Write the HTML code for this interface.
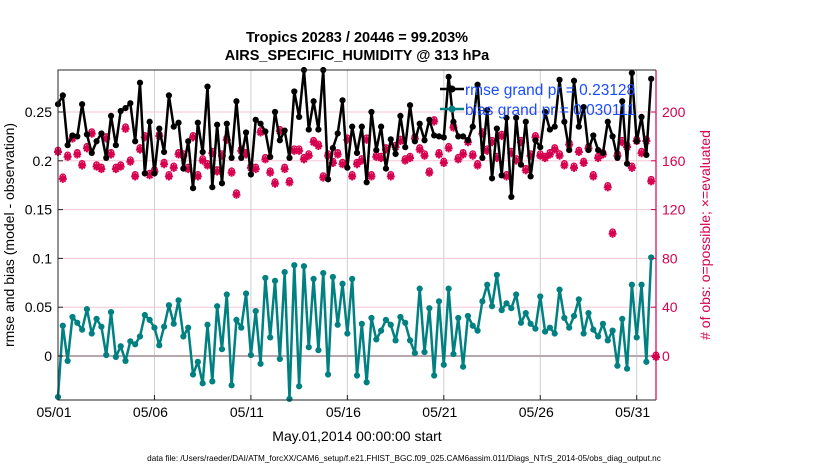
<!DOCTYPE html>
<html><head><meta charset="utf-8"><style>
html,body{margin:0;padding:0;background:#fff;}
svg{display:block;font-family:"Liberation Sans",sans-serif;}
</style></head><body>
<svg id="chart" width="830" height="470">
<text x="357" y="42" text-anchor="middle" font-size="14.5" font-weight="bold">Tropics 20283 / 20446 = 99.203%</text>
<text x="357" y="60" text-anchor="middle" font-size="14.5" font-weight="bold">AIRS_SPECIFIC_HUMIDITY @ 313 hPa</text>
<g id="grid"></g>
<g id="marks"></g>
<g id="axes"></g>
<text transform="translate(14,235) rotate(-90)" text-anchor="middle" font-size="14">rmse and bias (model - observation)</text>
<text transform="translate(710,235) rotate(-90)" text-anchor="middle" font-size="14" fill="#d6004f"># of obs: o=possible; ×=evaluated</text>
<text x="357" y="441" text-anchor="middle" font-size="14">May.01,2014 00:00:00 start</text>
<text x="404" y="461" text-anchor="middle" font-size="8.2">data file: /Users/raeder/DAI/ATM_forcXX/CAM6_setup/f.e21.FHIST_BGC.f09_025.CAM6assim.011/Diags_NTrS_2014-05/obs_diag_output.nc</text>
<g>
<line x1="440" y1="89" x2="464" y2="89" stroke="#000" stroke-width="2.5"/>
<circle cx="452" cy="89" r="3.5" fill="#000"/>
<text x="465" y="95" font-size="15.5" fill="#1a4cff">rmse grand pr = 0.23128</text>
<line x1="440" y1="109" x2="464" y2="109" stroke="#008080" stroke-width="2.5"/>
<circle cx="452" cy="109" r="3.5" fill="#008080"/>
<text x="465" y="115" font-size="15.5" fill="#1a4cff">bias grand pr = 0.030111</text>
</g>
</svg>
<script>
const xTickLabels = ["05/01","05/06","05/11","05/16","05/21","05/26","05/31"];
const xTickDays = [0,5,10,15,20,25,30];
const leftTicks = [0,0.05,0.1,0.15,0.2,0.25];
const leftTickLabels = ["0","0.05","0.1","0.15","0.2","0.25"];
const rightTicks = [0,40,80,120,160,200];
const rmse = [0.258,0.267,0.216,0.226,0.225,0.258,0.227,0.208,0.220,0.228,0.203,0.246,0.216,0.251,0.254,0.259,0.220,0.280,0.187,0.240,0.187,0.233,0.209,0.267,0.235,0.239,0.192,0.220,0.172,0.239,0.209,0.276,0.173,0.237,0.177,0.238,0.203,0.261,0.203,0.229,0.186,0.242,0.238,
0.230,0.204,0.250,0.221,0.231,0.203,0.271,0.245,0.293,0.232,0.261,0.232,0.293,0.181,0.213,0.228,0.262,0.193,0.235,0.208,0.235,0.178,0.250,0.211,0.235,0.192,0.222,0.207,0.246,0.214,0.257,0.220,0.238,0.221,0.242,0.226,0.225,0.224,0.286,0.240,0.225,
0.225,0.221,0.235,0.278,0.203,0.252,0.182,0.233,0.185,0.244,0.163,0.244,0.196,0.240,0.184,0.221,0.214,0.250,0.232,0.235,0.283,0.240,0.211,0.282,0.235,0.255,0.211,0.226,0.211,0.208,0.240,0.225,0.203,0.261,0.197,0.290,0.220,0.245,0.206,0.284];
const bias = [-0.042,0.031,-0.005,0.040,0.034,0.027,0.048,0.023,0.038,0.030,0.001,0.045,-0.001,0.010,-0.005,0.015,0.012,0.020,0.042,0.037,0.029,0.011,0.030,0.052,0.033,0.057,0.020,0.029,-0.019,-0.006,-0.028,0.032,-0.026,0.051,0.007,0.063,-0.030,0.037,0.029,0.064,0.001,0.046,-0.008,
0.080,0.019,0.077,-0.003,0.086,-0.044,0.093,-0.031,0.092,0.009,0.079,0.006,0.085,-0.019,0.081,0.032,0.074,0.023,0.079,-0.020,0.033,-0.027,0.039,0.017,0.026,0.037,0.032,0.016,0.040,0.034,0.016,0.003,0.069,0.004,0.049,-0.020,0.056,-0.009,0.069,0.002,0.039,
-0.011,0.041,0.031,0.026,0.056,0.073,0.051,0.083,0.047,0.054,0.049,0.063,0.034,0.044,0.033,0.028,0.061,0.025,0.029,0.023,0.068,0.039,0.029,0.041,0.058,0.023,0.044,0.027,0.020,0.033,0.016,0.026,-0.010,0.038,-0.013,0.073,0.019,0.073,-0.006,0.101];
const possible = [168,146,164,179,166,157,171,183,156,154,179,166,154,156,187,160,148,170,180,149,152,181,158,148,155,166,165,154,180,148,161,157,167,152,165,178,151,133,169,166,155,154,184,
162,151,142,185,154,143,169,169,162,165,176,173,147,165,159,166,158,178,148,158,161,178,148,164,163,170,148,172,177,161,163,179,170,165,151,193,166,159,171,188,162,
166,176,165,157,183,169,176,163,181,148,167,161,176,153,165,180,165,163,166,170,165,157,174,155,168,159,171,148,163,166,139,101,165,176,172,155,177,167,177,144,0];
const evaluated = possible.slice();

const L=58,R=656,T=70,B=400;
const xs = i => L + i*(R-L)/124;
const xDay = d => L + d*4*(R-L)/124;
const yl = v => 356 - v*976;
const yr = c => 356 - c*1.22;
const NS="http://www.w3.org/2000/svg";
function mk(parent,tag,attrs){const e=document.createElementNS(NS,tag);for(const k in attrs)e.setAttribute(k,attrs[k]);parent.appendChild(e);return e;}
const grid=document.getElementById('grid'), marks=document.getElementById('marks'), axes=document.getElementById('axes');

rightTicks.forEach(c=>{const g=mk(grid,'line',{x1:L,x2:R,y1:yr(c),y2:yr(c),stroke:'#f3c6d6','stroke-width':1});

});
xTickDays.forEach(d=>{const g=mk(grid,'line',{x1:xDay(d),x2:xDay(d),y1:T,y2:B,stroke:'#cfcfcf','stroke-width':1});

});
const z=mk(grid,'line',{x1:L,x2:R,y1:yl(0),y2:yl(0),stroke:'#b8a8ad','stroke-width':2});



possible.forEach((c,i)=>{const e=mk(marks,'circle',{cx:xs(i),cy:yr(c)-1,r:2.8,fill:'none',stroke:'#d6004f','stroke-width':1.3});

});
evaluated.forEach((c,i)=>{const x=xs(i),y=yr(c)+1;const e=mk(marks,'path',{d:`M${x-4},${y}L${x+4},${y}M${x},${y-4}L${x},${y+4}M${x-2.8},${y-2.8}L${x+2.8},${y+2.8}M${x-2.8},${y+2.8}L${x+2.8},${y-2.8}`,stroke:'#d6004f','stroke-width':2});

});

function series(vals,color,name){
  const p=mk(marks,'polyline',{points:vals.map((v,i)=>xs(i)+','+yl(v)).join(' '),fill:'none',stroke:color,'stroke-width':2.5,'stroke-linejoin':'round'});
  
  
  vals.forEach((v,i)=>{const c=mk(marks,'circle',{cx:xs(i),cy:yl(v),r:3.1,fill:color});
  
  });
}
series(bias,'#008080','bias');
series(rmse,'#000000','rmse');

const fr=mk(axes,'path',{d:`M${R},${T}L${L},${T}L${L},${B}L${R},${B}`,fill:'none',stroke:'#262626','stroke-width':1});


const ra=mk(axes,'line',{x1:R,x2:R,y1:T,y2:B,stroke:'#d6004f','stroke-width':1.2});


leftTicks.forEach((v,i)=>{mk(axes,'line',{x1:L,x2:L+5,y1:yl(v),y2:yl(v),stroke:'#262626'});
const t=mk(axes,'text',{x:L-6,y:yl(v)+5,'text-anchor':'end','font-size':14});t.textContent=leftTickLabels[i];

});
rightTicks.forEach(c=>{mk(axes,'line',{x1:R-5,x2:R,y1:yr(c),y2:yr(c),stroke:'#d6004f'});
const t=mk(axes,'text',{x:R+6,y:yr(c)+5,'font-size':14,fill:'#d6004f'});t.textContent=String(c);

});
xTickDays.forEach((d,i)=>{mk(axes,'line',{x1:xDay(d),x2:xDay(d),y1:B-5,y2:B,stroke:'#262626'});
const t=mk(axes,'text',{x:xDay(d)-4,y:417,'text-anchor':'middle','font-size':14});t.textContent=xTickLabels[i];

});
</script>
</body></html>
